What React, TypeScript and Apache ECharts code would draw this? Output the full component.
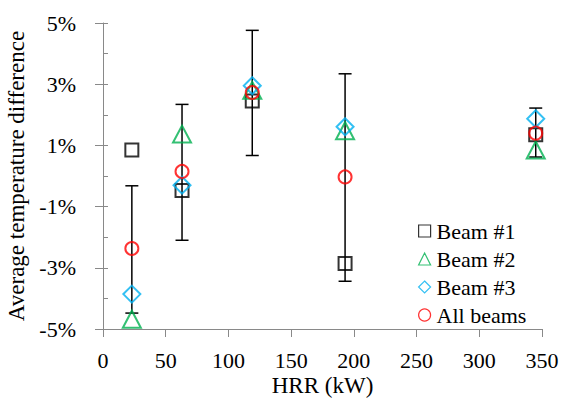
import React, { useEffect, useRef } from "react";
import * as echarts from "echarts";

const hrr = [23, 63, 119, 193, 345];
const beam1 = [0.85, -0.47, 2.45, -2.86, 1.35];
const beam2 = [-4.68, 1.37, 2.8, 1.48, 0.85];
const beam3 = [-3.86, -0.3, 2.95, 1.61, 1.87];
const allBeams = [-2.37, 0.15, 2.73, -0.03, 1.4];
const errLow = [-4.48, -2.1, 0.67, -3.44, 0.62];
const errHigh = [-0.32, 2.34, 4.76, 3.34, 2.22];
const yTickLabels = ["-5%", "-4%", "-3%", "-2%", "-1%", "0%", "1%", "2%", "3%", "4%", "5%"];
const xTicks = { min: 0, max: 350, interval: 50 };

const FONT = "Liberation Serif";
const AXIS_COLOR = "#898989";

export default function App() {
  const ref = useRef<HTMLDivElement>(null);
  useEffect(() => {
    if (!ref.current) return;
    const chart = echarts.init(ref.current, null, { renderer: "svg" });
    const pts = (ys: number[]) => hrr.map((x, i) => [x, ys[i]]);
    const hollow = (c: string) => ({ color: "transparent", borderColor: c, borderWidth: 2 });
    chart.setOption({
      animation: false,
      textStyle: { fontFamily: FONT },
      grid: { left: 103, right: 20, top: 23, bottom: 70, containLabel: false, outerBoundsMode: "none" },
      xAxis: {
        type: "value",
        min: xTicks.min,
        max: xTicks.max,
        interval: xTicks.interval,
        name: "HRR (kW)",
        nameLocation: "middle",
        nameGap: 45,
        nameMoveOverlap: false,
        nameTextStyle: { fontFamily: FONT, fontSize: 23, color: "#000" },
        axisLine: { show: true, onZero: false, lineStyle: { color: AXIS_COLOR, width: 1 } },
        axisTick: { show: true, inside: false, length: 8, lineStyle: { color: AXIS_COLOR } },
        axisLabel: { fontFamily: FONT, fontSize: 22, color: "#000", margin: 20 },
        splitLine: { show: false },
      },
      yAxis: [
        {
          type: "value",
          min: -5,
          max: 5,
          interval: 1,
          name: "Average temperature difference",
          nameLocation: "middle",
          nameGap: 68,
          nameRotate: 90,
          nameTextStyle: { fontFamily: FONT, fontSize: 23, color: "#000" },
          axisLine: { show: true, onZero: false, lineStyle: { color: AXIS_COLOR, width: 1 } },
          axisTick: { show: true, inside: true, length: 5, lineStyle: { color: AXIS_COLOR } },
          axisLabel: {
            fontFamily: FONT,
            fontSize: 22,
            color: "#000",
            margin: 27,
            formatter: (v: number) => (Math.abs(Math.round(v)) % 2 === 1 ? `${Math.round(v)}%` : ""),
          },
          splitLine: { show: false },
        },
        {
          type: "category",
          position: "left",
          data: yTickLabels,
          boundaryGap: false,
          axisLine: { show: false, onZero: false },
          axisLabel: { show: false },
          axisTick: {
            show: true,
            inside: false,
            length: 8,
            interval: (i: number) => i % 2 === 0,
            lineStyle: { color: AXIS_COLOR },
          },
          splitLine: { show: false },
        },
      ],
      legend: {
        orient: "vertical",
        left: 413,
        top: 215,
        itemWidth: 12,
        itemHeight: 12,
        itemGap: 6,
        textStyle: { fontFamily: FONT, fontSize: 22, color: "#000", padding: [0, 0, 0, 1] },
        itemStyle: { borderWidth: 1.2 },
        data: ["Beam #1", "Beam #2", "Beam #3", "All beams"],
      },
      series: [
        {
          type: "custom",
          name: "err",
          z: 1,
          silent: true,
          data: hrr.map((x, i) => [x, errLow[i], errHigh[i]]),
          renderItem: (params: any, api: any) => {
            const lo = api.coord([api.value(0), api.value(1)]);
            const hi = api.coord([api.value(0), api.value(2)]);
            const w = 6.5;
            const style = { stroke: "#000", lineWidth: 1.5 };
            return {
              type: "group",
              children: [
                { type: "line", shape: { x1: lo[0], y1: lo[1], x2: hi[0], y2: hi[1] }, style },
                { type: "line", shape: { x1: lo[0] - w, y1: lo[1], x2: lo[0] + w, y2: lo[1] }, style },
                { type: "line", shape: { x1: hi[0] - w, y1: hi[1], x2: hi[0] + w, y2: hi[1] }, style },
              ],
            };
          },
        },
        {
          type: "scatter",
          name: "Beam #1",
          z: 2,
          symbol: "rect",
          symbolSize: 13,
          itemStyle: hollow("#000000"),
          data: pts(beam1),
        },
        {
          type: "scatter",
          name: "Beam #2",
          z: 3,
          symbol: "triangle",
          symbolSize: [18, 17],
          itemStyle: hollow("#00B050"),
          data: pts(beam2),
        },
        {
          type: "scatter",
          name: "Beam #3",
          z: 4,
          symbol: "diamond",
          symbolSize: [17, 17],
          itemStyle: hollow("#00B0F0"),
          data: pts(beam3),
        },
        {
          type: "scatter",
          name: "All beams",
          z: 5,
          symbol: "circle",
          symbolSize: 13,
          itemStyle: hollow("#FF0000"),
          data: pts(allBeams),
        },
      ],
    });
    return () => chart.dispose();
  }, []);
  return (
    <div
      ref={ref}
      style={{ position: "absolute", left: 0, top: 0, width: 562, height: 399, background: "#fff" }}
    />
  );
}
